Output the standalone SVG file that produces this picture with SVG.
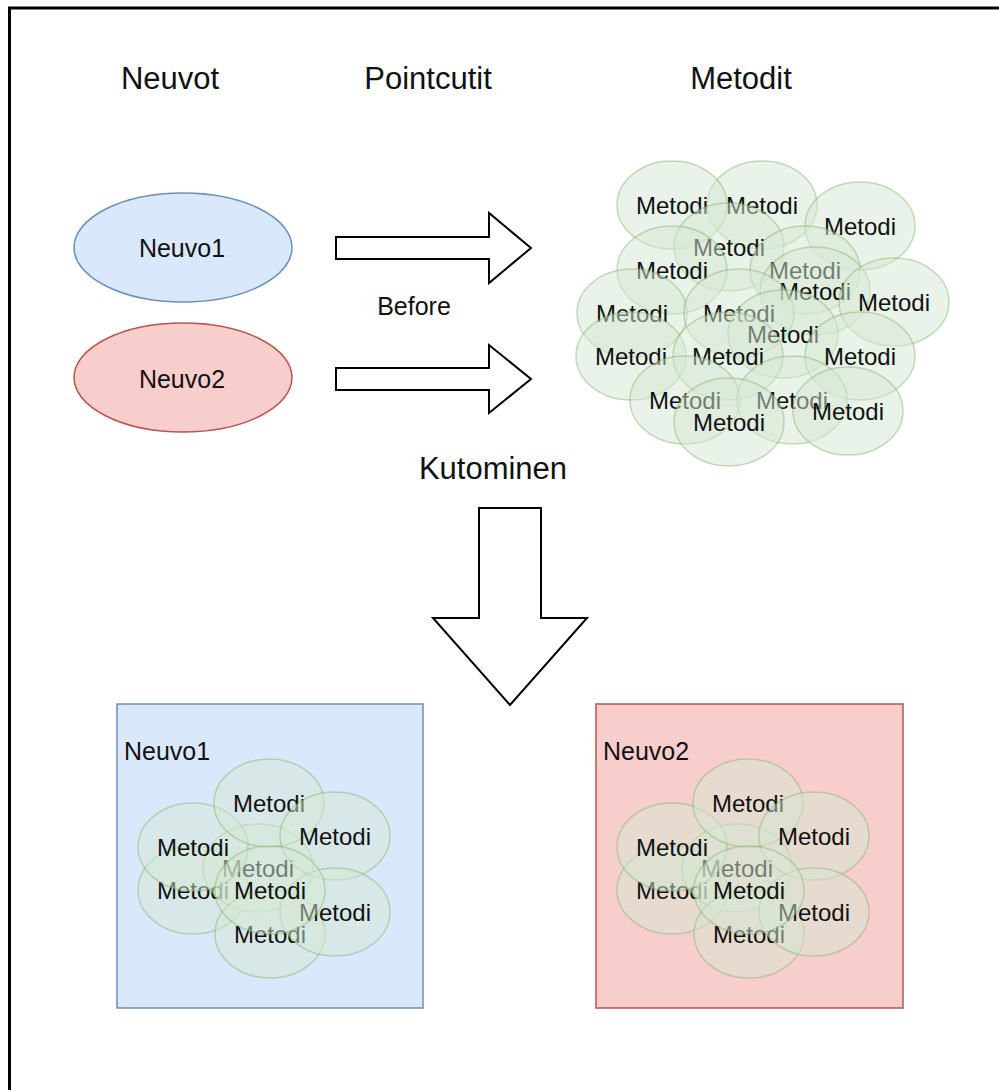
<svg xmlns="http://www.w3.org/2000/svg" width="999" height="1090" viewBox="0 0 999 1090">
  <defs>
    <style>
      text { font-family: "Liberation Sans", Arial, sans-serif; fill: #111; }
      .hdr { font-size: 31px; text-anchor: middle; }
      .lbl { font-size: 25px; text-anchor: middle; }
      .lbl-start { font-size: 25px; text-anchor: start; }
      .m { font-size: 24px; text-anchor: middle; }
      .mell { fill: #d5e8d4; fill-opacity: 0.5; stroke: #82b366; stroke-opacity: 0.45; stroke-width: 1.5; }
      .blue { fill: #dae8fc; stroke: #6c8ebf; stroke-width: 1.5; }
      .red { fill: #f8cecc; stroke: #b85450; stroke-width: 1.5; }
      .blk { fill: #fff; stroke: #000; stroke-width: 2; stroke-linejoin: miter; }
    </style>
    <!-- one "Metodi" ellipse, positioned via <use> + translate -->
    <g id="metodi">
      <ellipse class="mell" cx="0" cy="0" rx="55" ry="44"/>
      <text class="m" x="0" y="8.5">Metodi</text>
    </g>
  </defs>

  <rect width="999" height="1090" fill="#fff"/>
  <!-- page frame (runs past the right and bottom edges) -->
  <rect x="9.5" y="8" width="1200" height="1300" fill="none" stroke="#000" stroke-width="3"/>

  <!-- column headers -->
  <g id="headers">
    <text class="hdr" x="170" y="89">Neuvot</text>
    <text class="hdr" x="428" y="89">Pointcutit</text>
    <text class="hdr" x="741" y="89">Metodit</text>
  </g>

  <g id="neuvo1">
    <ellipse class="blue" cx="183" cy="247.5" rx="109" ry="54.5"/>
    <text class="lbl" x="182" y="257">Neuvo1</text>
  </g>

  <g id="neuvo2">
    <ellipse class="red" cx="183" cy="377.5" rx="109" ry="54.5"/>
    <text class="lbl" x="182" y="388">Neuvo2</text>
  </g>

  <g id="before-label">
    <text class="lbl" x="414" y="315">Before</text>
  </g>

  <g id="kutominen-label">
    <text class="hdr" x="493" y="479">Kutominen</text>
  </g>

  <!-- block arrows -->
  <g id="connectors">
    <polygon class="blk" points="336,237 489,237 489,213 531,248 489,283 489,259 336,259"/>
    <polygon class="blk" points="336,368 489,368 489,345 531,379 489,413 489,390 336,390"/>
    <polygon class="blk" points="479,508 541,508 541,618 587,618 510,705 433,618 479,618"/>
  </g>

  <!-- cloud of methods, drawn back to front -->
  <g id="metodit">
    <use href="#metodi" transform="translate(762,205)"/>
    <use href="#metodi" transform="translate(672,205)"/>
    <use href="#metodi" transform="translate(860,226)"/>
    <use href="#metodi" transform="translate(729,247)"/>
    <use href="#metodi" transform="translate(672,270)"/>
    <use href="#metodi" transform="translate(805,270)"/>
    <use href="#metodi" transform="translate(815,291)"/>
    <use href="#metodi" transform="translate(894,302)"/>
    <use href="#metodi" transform="translate(632,313)"/>
    <use href="#metodi" transform="translate(739,313)"/>
    <use href="#metodi" transform="translate(783,334)"/>
    <use href="#metodi" transform="translate(631,356)"/>
    <use href="#metodi" transform="translate(728,356)"/>
    <use href="#metodi" transform="translate(860,356)"/>
    <use href="#metodi" transform="translate(685,400)"/>
    <use href="#metodi" transform="translate(792,400)"/>
    <use href="#metodi" transform="translate(729,422)"/>
    <use href="#metodi" transform="translate(848,411)"/>
  </g>

  <!-- woven Neuvo1 -->
  <g id="neuvo1-woven">
    <rect class="blue" x="117" y="704" width="306" height="304"/>
    <text class="lbl-start" x="124" y="760">Neuvo1</text>
    <use href="#metodi" transform="translate(193,890)"/>
    <use href="#metodi" transform="translate(258,868)"/>
    <use href="#metodi" transform="translate(193,847)"/>
    <use href="#metodi" transform="translate(269,803)"/>
    <use href="#metodi" transform="translate(335,836)"/>
    <use href="#metodi" transform="translate(270,934)"/>
    <use href="#metodi" transform="translate(335,912)"/>
    <use href="#metodi" transform="translate(270,890)"/>
  </g>

  <!-- woven Neuvo2 -->
  <g id="neuvo2-woven">
    <rect class="red" x="596" y="704" width="307" height="304"/>
    <text class="lbl-start" x="603" y="760">Neuvo2</text>
    <use href="#metodi" transform="translate(672,890)"/>
    <use href="#metodi" transform="translate(737,868)"/>
    <use href="#metodi" transform="translate(672,847)"/>
    <use href="#metodi" transform="translate(748,803)"/>
    <use href="#metodi" transform="translate(814,836)"/>
    <use href="#metodi" transform="translate(749,934)"/>
    <use href="#metodi" transform="translate(814,912)"/>
    <use href="#metodi" transform="translate(749,890)"/>
  </g>
</svg>
